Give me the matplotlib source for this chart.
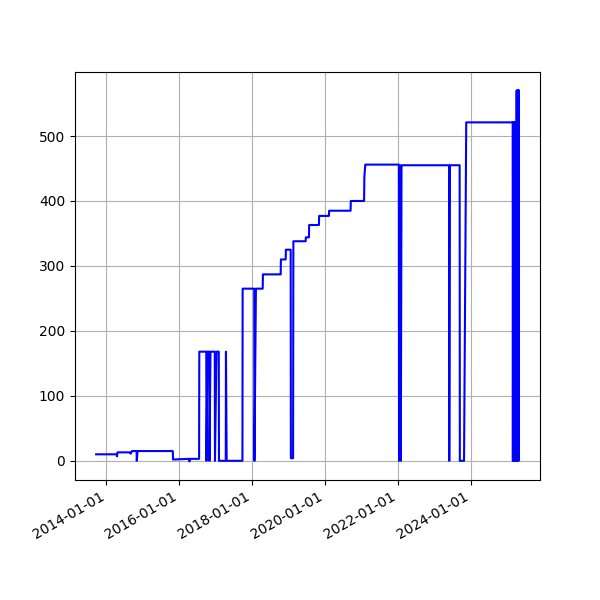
import numpy as np
import pandas as pd
import matplotlib
matplotlib.use("Agg")
import matplotlib.pyplot as plt
import matplotlib.dates as mdates

dates = [
    "2013-09-20", "2014-04-15", "2014-04-17", "2014-04-22", "2014-08-29", "2014-08-31",
    "2014-09-15", "2014-10-30", "2014-11-01", "2014-11-09", "2015-10-28", "2015-10-30",
    "2016-04-08", "2016-04-10", "2016-04-22", "2016-07-17", "2016-07-19",
    "2016-09-27", "2016-09-29", "2016-10-09", "2016-10-27", "2016-10-29", "2016-11-08",
    "2016-12-21", "2016-12-23", "2017-01-07", "2017-01-30", "2017-02-01",
    "2017-04-10", "2017-04-12", "2017-04-19", "2017-09-24", "2017-09-26",
    "2018-01-20", "2018-01-22", "2018-02-06", "2018-04-15", "2018-04-17",
    "2018-10-12", "2018-10-14", "2018-12-01", "2018-12-03", "2019-01-20", "2019-01-22",
    "2019-02-13", "2019-02-16", "2019-06-19", "2019-06-21", "2019-07-22", "2019-07-24",
    "2019-10-30", "2019-11-01", "2020-02-07", "2020-02-09", "2020-09-11", "2020-09-13",
    "2021-01-24", "2021-01-27", "2021-02-05", "2022-01-07", "2022-01-09", "2022-01-19",
    "2022-01-27", "2022-02-03", "2023-05-25", "2023-05-27", "2023-06-02", "2023-09-08",
    "2023-09-10", "2023-10-22", "2023-11-13", "2025-02-20",
    "2025-02-22", "2025-02-25", "2025-02-28", "2025-03-03", "2025-03-06", "2025-03-09",
    "2025-03-12", "2025-03-15", "2025-03-18", "2025-03-21", "2025-03-24", "2025-03-27",
    "2025-03-30", "2025-04-01", "2025-04-03", "2025-04-05", "2025-04-07", "2025-04-09",
    "2025-04-11", "2025-04-13", "2025-04-15", "2025-04-17", "2025-04-19", "2025-04-21",
    "2025-04-23",
]
values = [
    10, 10, 7, 13, 13, 11,
    15, 15, 0, 15, 15, 2,
    3, -1, 3, 3, 168,
    168, 0, 168, 168, 0, 168,
    168, 0, 168, 168, 0,
    0, 168, 0, 0, 265,
    265, 0, 265, 265, 287,
    287, 310, 310, 325, 325, 4,
    4, 338, 338, 344, 344, 363,
    363, 377, 377, 385, 385, 400,
    400, 437, 456, 456, 0, 455,
    0, 455, 455, 0, 455, 455,
    0, 0, 521, 521,
    0, 521, 0, 521, 0, 521,
    0, 521, 0, 521, 0, 521,
    0, 570, 0, 570, 0, 570,
    0, 570, 0, 570, 0, 570,
    570,
]

x = pd.to_datetime(dates)

fig, ax = plt.subplots(figsize=(6, 6), dpi=100)
ax.plot(x, values, color="blue")
ax.xaxis.set_major_locator(mdates.YearLocator(2))
ax.xaxis.set_major_formatter(mdates.DateFormatter("%Y-%m-%d"))
ax.grid(True)
fig.autofmt_xdate()

plt.savefig("out.png", dpi=100)
